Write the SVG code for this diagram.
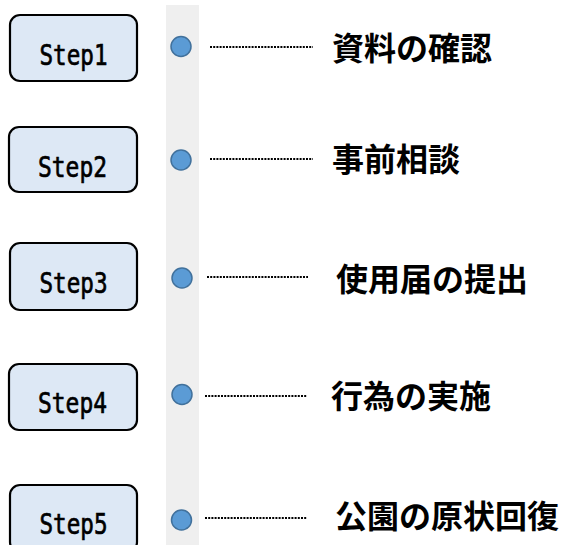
<svg xmlns="http://www.w3.org/2000/svg" width="561" height="545" viewBox="0 0 561 545">
<style>
.box{fill:#dde8f5;stroke:#000;stroke-width:2.2}
.step{font-family:"DejaVu Sans Mono",monospace;font-size:29px;fill:#000;stroke:#000;stroke-width:0.7;text-anchor:middle}
.dot{fill:#5b9bd5;stroke:#41719c;stroke-width:1.5}
.lead{stroke:#000;stroke-width:2;stroke-dasharray:2 1.2;fill:none}
.label{font-family:"Noto Sans CJK JP","Noto Sans CJK SC",sans-serif;font-weight:bold;font-size:32px;fill:#000}
</style>
<rect id="timeline" x="166" y="5" width="33" height="545" fill="#efefef"/>
<g id="step1">
<rect class="box" x="10" y="15" width="127" height="66" rx="10"/>
<text class="step" x="73.5" y="64.5" textLength="68" lengthAdjust="spacingAndGlyphs">Step1</text>
</g>
<g id="step2">
<rect class="box" x="9" y="127" width="128" height="65" rx="10"/>
<text class="step" x="72.5" y="176.5" textLength="69" lengthAdjust="spacingAndGlyphs">Step2</text>
</g>
<g id="step3">
<rect class="box" x="10" y="243" width="127" height="67" rx="10"/>
<text class="step" x="73.5" y="293" textLength="68" lengthAdjust="spacingAndGlyphs">Step3</text>
</g>
<g id="step4">
<rect class="box" x="9" y="364" width="128" height="66" rx="10"/>
<text class="step" x="72.5" y="413" textLength="69" lengthAdjust="spacingAndGlyphs">Step4</text>
</g>
<g id="step5">
<rect class="box" x="10" y="485" width="127" height="67" rx="10"/>
<text class="step" x="73.5" y="534" textLength="68" lengthAdjust="spacingAndGlyphs">Step5</text>
</g>
<g id="markers">
<circle class="dot" cx="181" cy="46.5" r="10"/>
<circle class="dot" cx="181" cy="160" r="10"/>
<circle class="dot" cx="182" cy="278" r="10"/>
<circle class="dot" cx="182" cy="394.5" r="10"/>
<circle class="dot" cx="181.5" cy="520" r="10"/>
</g>
<g id="connectors">
<line class="lead" x1="210" y1="47" x2="313" y2="47"/>
<line class="lead" x1="210" y1="159" x2="313" y2="159"/>
<line class="lead" x1="207" y1="277" x2="308" y2="277"/>
<line class="lead" x1="205" y1="396" x2="307" y2="396"/>
<line class="lead" x1="205" y1="518" x2="307" y2="518"/>
</g>
<g id="label1"><text class="label" x="332" y="59.5">資料の確認</text></g>
<g id="label2"><text class="label" x="332" y="171">事前相談</text></g>
<g id="label3"><text class="label" x="336" y="290.5">使用届の提出</text></g>
<g id="label4"><text class="label" x="331" y="408">行為の実施</text></g>
<g id="label5"><text class="label" x="335" y="528">公園の原状回復</text></g>
</svg>
